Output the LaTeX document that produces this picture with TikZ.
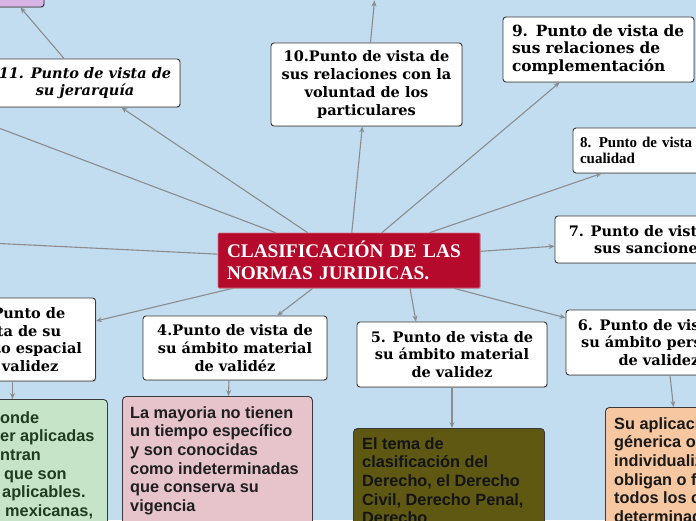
\documentclass[tikz,border=0pt]{standalone}
\usepackage{fontspec}
\setmainfont{DejaVu Serif}
\newfontfamily\timesfont{Liberation Serif}
\newfontfamily\arialfont{Liberation Sans}
\usetikzlibrary{arrows.meta,positioning,shadows}
\definecolor{mback}{HTML}{C3DDF0}
\definecolor{mred}{HTML}{B50A2B}
\definecolor{medge}{HTML}{3A3A3A}
\definecolor{mlink}{HTML}{8C8C8C}
\definecolor{mpurple}{HTML}{D8B5E6}
\definecolor{mgreen}{HTML}{C6E4C8}
\definecolor{mpink}{HTML}{E7C4CC}
\definecolor{molive}{HTML}{5E5813}
\definecolor{mpeach}{HTML}{F6C7A1}
\definecolor{mgreentext}{HTML}{1F3B20}

\begin{document}
\begin{tikzpicture}[x=1pt, y=-1pt,
    topic/.style={rectangle, draw=medge, fill=white, line width=0.9pt, rounded corners=3pt, align=center, inner sep=0pt, font=\bfseries\fontsize{14.5}{17.8}\selectfont, drop shadow={shadow xshift=0.8pt, shadow yshift=-0.8pt, opacity=0.35}},
    detail/.style={rectangle, draw=medge, line width=0.9pt, rounded corners=4pt, minimum height=150pt, anchor=north west},
    body/.style={anchor=north west, align=left, inner sep=0pt, font=\arialfont\bfseries\fontsize{16.3}{18.7}\selectfont},
    link/.style={draw=mlink, line width=1.1pt, -{Stealth[length=6pt, width=5pt]}}
]
    \useasboundingbox (0,0) rectangle (696,520);
    \fill[mback] (0,0) rectangle (696,520);
    \clip (0,0) rectangle (696,520);

    % Central topic
    \node[topic, fill=mred, draw=mred!60!white, line width=0.6pt, rounded corners=1pt, minimum width=262pt, minimum height=55pt, text width=244pt, align=left, text=white, font=\timesfont\bfseries\fontsize{19.3}{21.7}\selectfont] (central) at (349,260.5) {CLASIFICACIÓN DE LAS\\NORMAS JURIDICAS.};

    % Main topics
    \node[topic, minimum width=191pt, minimum height=83pt] (n10) at (366.5,84.5) {10.Punto de vista de\\sus relaciones con la\\voluntad de los\\particulares};
    \node[topic, minimum width=191pt, minimum height=65pt, align=left, text width=173pt, font=\bfseries\fontsize{15.4}{17.7}\selectfont] (n9) at (598.5,49.5) {9. Punto de vista de\\sus relaciones de\\complementación};
    \node[topic, minimum width=190pt, minimum height=45pt, align=left, text width=176pt, font=\timesfont\bfseries\fontsize{15}{16.7}\selectfont] (n8) at (668,150.5) {8. Punto de vista de su\\cualidad};
    \node[topic, minimum width=190pt, minimum height=47pt] (n7) at (650,239.5) {7. Punto de vista de\\sus sanciones};
    \node[topic, minimum width=186pt, minimum height=65pt] (n6) at (659,342.5) {6. Punto de vista de\\su ámbito personal\\de validez};
    \node[topic, minimum width=190pt, minimum height=65pt] (n5) at (452,354.5) {5. Punto de vista de\\su ámbito material\\de validez};
    \node[topic, minimum width=184pt, minimum height=64pt] (n4) at (235,348) {4.Punto de vista de\\su ámbito material\\de validéz};
    \node[topic, minimum width=155pt, minimum height=83pt] (n3) at (18,339.5) {3. Punto de\\vista de su\\ámbito espacial\\de validez};
    \node[topic, minimum width=190pt, minimum height=48pt, font=\bfseries\itshape\fontsize{14.5}{17.8}\selectfont] (n11) at (85,83) {11. Punto de vista de\\su jerarquía};
    \node[topic, fill=mpurple, minimum width=94pt, minimum height=54pt] (n12) at (-3,-20) {};
    \coordinate (n13) at (-60,105.8);
    \coordinate (n14) at (-40,241.6);
    \coordinate (n10up) at (374.5,0.5);

    % Details
    \node[detail, fill=mgreen, minimum width=190pt] (green) at (-83,399) {};
    \node[body, text=mgreentext] (greentext) at ([shift={(83,12)}]green.north west) {onde\\er aplicadas\\ntran\\\hspace*{4pt}que son\\\hspace*{2pt}aplicables.\\\hspace*{5pt}mexicanas,};
    \node[detail, fill=mpink, minimum width=190pt] (pink) at (122,396) {};
    \node[body, text=black!88] (pinktext) at ([shift={(8,10)}]pink.north west) {La mayoria no tienen\\un tiempo específico\\y son conocidas\\como indeterminadas\\que conserva su\\vigencia};
    \node[detail, fill=molive, minimum width=191pt] (olive) at (353,428) {};
    \node[body, text=black!92] (olivetext) at ([shift={(9,9)}]olive.north west) {El tema de\\clasificación del\\Derecho, el Derecho\\Civil, Derecho Penal,\\Derecho};
    \node[detail, fill=mpeach, minimum width=190pt] (peach) at (605,407) {};
    \node[body, text=black!90] (peachtext) at ([shift={(9,10)}]peach.north west) {Su aplicación\\génerica o\\individualizada\\obligan o facultan\\todos los ciudadanos\\determinados};

    % Links
    \draw[link] (central) -- (n10);
    \draw[link] (central) -- (n9);
    \draw[link] (central) -- (n8);
    \draw[link] (central) -- (n7);
    \draw[link] (central) -- (n6);
    \draw[link] ([xshift=61pt]central.south) -- ([xshift=-36pt]n5.north);
    \draw[link] (central) -- (n4);
    \draw[link] (central) -- (n3);
    \draw[link] (central) -- (n11);
    \draw[link] (central) -- (n13);
    \draw[link] (central) -- (n14);
    \draw[link] (n10) -- (n10up);
    \draw[link] (n11) -- (n12);
    \draw[link] (n3.south -| green.north) -- (green.north);
    \draw[link] ([xshift=-6pt]n4.south) -- ([xshift=11pt]pink.north);
    \draw[link] (n5.south) -- (n5.south |- olive.north);
    \draw[link] ([xshift=11pt]n6.south) -- ([xshift=-27pt]peach.north);

\end{tikzpicture}
\end{document}
